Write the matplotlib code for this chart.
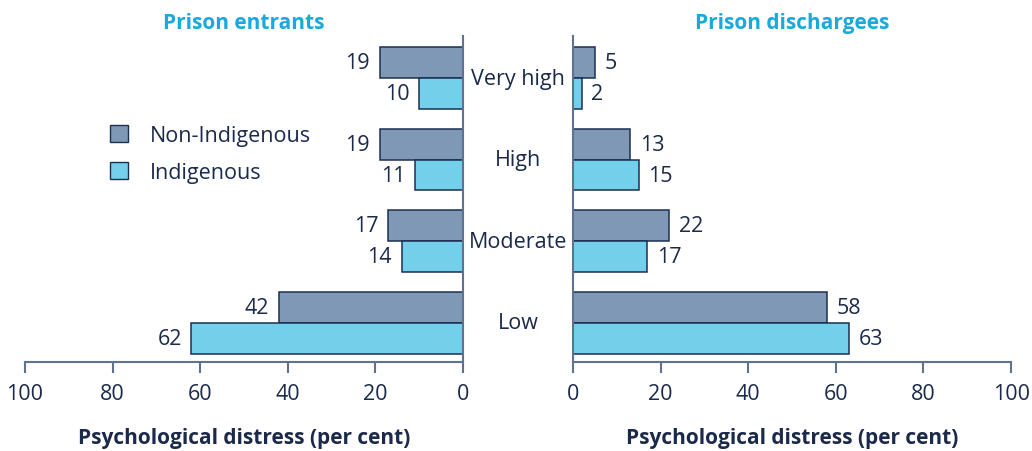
import numpy as np
import matplotlib.pyplot as plt
from matplotlib.patches import Patch

plt.rcParams['font.family'] = ['Open Sans', 'DejaVu Sans']

# Data
levels = ['Low', 'Moderate', 'High', 'Very high']
entrants_non_indig = [42, 17, 19, 19]
entrants_indig = [62, 14, 11, 10]
dischargees_non_indig = [58, 22, 13, 5]
dischargees_indig = [63, 17, 15, 2]

c_non = '#7f98b5'
c_ind = '#74cfea'
edge = '#1c2f52'
txt = '#1b2a4a'
spine_c = '#5f7290'
title_c = '#1aa9dc'
fs = 15.5

fig = plt.figure(figsize=(10.32, 4.52), dpi=100)
ax_l = fig.add_axes([0.0242, 0.1969, 0.4244, 0.7212])
ax_r = fig.add_axes([0.5552, 0.1969, 0.4245, 0.7212])

y = np.arange(len(levels))
h = 0.378

def draw(ax, non, ind, side):
    ax.barh(y + h / 2, non, height=h, color=c_non, edgecolor=edge, linewidth=1.1)
    ax.barh(y - h / 2, ind, height=h, color=c_ind, edgecolor=edge, linewidth=1.1)
    off = -7 if side == 'l' else 7
    ha = 'right' if side == 'l' else 'left'
    for yi, v in zip(y + h / 2, non):
        ax.annotate(str(v), (v, yi), xytext=(off, 0), textcoords='offset points',
                    va='center', ha=ha, fontsize=fs, color=txt)
    for yi, v in zip(y - h / 2, ind):
        ax.annotate(str(v), (v, yi), xytext=(off, 0), textcoords='offset points',
                    va='center', ha=ha, fontsize=fs, color=txt)
    ax.set_ylim(-0.48, 3.515)
    ax.set_xticks([0, 20, 40, 60, 80, 100])
    ax.set_yticks([])
    for s in ax.spines.values():
        s.set_visible(False)
    vs = 'right' if side == 'l' else 'left'
    for name in ['bottom', vs]:
        ax.spines[name].set_visible(True)
        ax.spines[name].set_color(spine_c)
        ax.spines[name].set_linewidth(1.5)
    ax.tick_params(axis='x', direction='out', length=8, width=1.5, color=spine_c,
                   labelsize=fs, labelcolor=txt, pad=7)
    ax.set_xlabel('Psychological distress (per cent)', fontsize=15,
                  fontweight='bold', color=txt, labelpad=17)

draw(ax_l, entrants_non_indig, entrants_indig, 'l')
draw(ax_r, dischargees_non_indig, dischargees_indig, 'r')
ax_l.set_xlim(100, 0)
ax_r.set_xlim(0, 100)

ax_l.set_title('Prison entrants', fontsize=15, fontweight='bold', color=title_c, pad=6)
ax_r.set_title('Prison dischargees', fontsize=15, fontweight='bold', color=title_c, pad=6)

# category labels between the panels
for yi, lab in zip(y, levels):
    fig.text(0.502, ax_l.transData.transform((0, yi))[1] / fig.bbox.height, lab,
             ha='center', va='center', fontsize=fs, color=txt)

handles = [Patch(facecolor=c_non, edgecolor=edge, label='Non-Indigenous'),
           Patch(facecolor=c_ind, edgecolor=edge, label='Indigenous')]
fig.legend(handles=handles, loc='upper left', bbox_to_anchor=(0.088, 0.765),
           frameon=False, fontsize=fs, labelcolor=txt, handlelength=0.85,
           handleheight=0.85, handletextpad=1.0, labelspacing=0.75)

fig.savefig('out.png', dpi=100)
